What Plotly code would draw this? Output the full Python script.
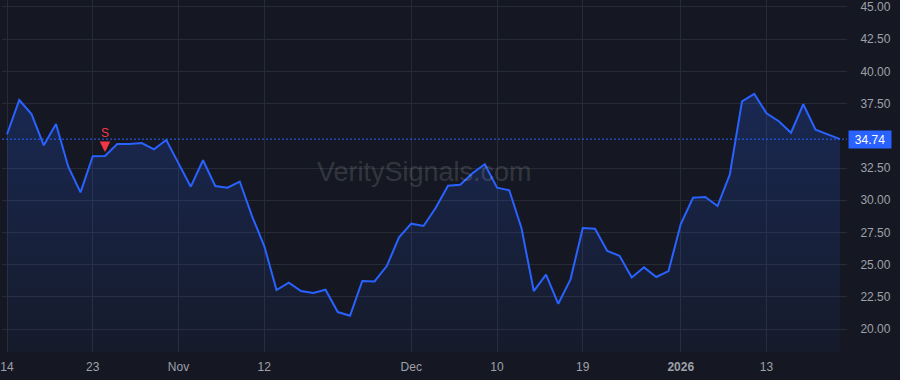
import plotly.graph_objects as go

dates = [
    "2025-10-14", "2025-10-15", "2025-10-16", "2025-10-17", "2025-10-20", "2025-10-21", "2025-10-22",
    "2025-10-23", "2025-10-24", "2025-10-27", "2025-10-28", "2025-10-29", "2025-10-30", "2025-10-31",
    "2025-11-03", "2025-11-04", "2025-11-05", "2025-11-06", "2025-11-07", "2025-11-10", "2025-11-11",
    "2025-11-12", "2025-11-13", "2025-11-14", "2025-11-17", "2025-11-18", "2025-11-19", "2025-11-20",
    "2025-11-21", "2025-11-24", "2025-11-25", "2025-11-26", "2025-11-28",
    "2025-12-01", "2025-12-02", "2025-12-03", "2025-12-04", "2025-12-05", "2025-12-08", "2025-12-09",
    "2025-12-10", "2025-12-11", "2025-12-12", "2025-12-15", "2025-12-16", "2025-12-17", "2025-12-18",
    "2025-12-19", "2025-12-22", "2025-12-23", "2025-12-24", "2025-12-26", "2025-12-29", "2025-12-30",
    "2025-12-31",
    "2026-01-02", "2026-01-05", "2026-01-06", "2026-01-07", "2026-01-08", "2026-01-09", "2026-01-12",
    "2026-01-13", "2026-01-14", "2026-01-15", "2026-01-16", "2026-01-20", "2026-01-21", "2026-01-22",
]

prices = [
    35.12, 37.78, 36.69, 34.26, 35.92, 32.60, 30.61,
    33.41, 33.43, 34.36, 34.36, 34.44, 33.95, 34.67,
    32.86, 31.05, 33.10, 31.10, 30.97, 31.45, 28.77,
    26.44, 23.03, 23.60, 22.95, 22.80, 23.05, 21.32,
    21.03, 23.73, 23.70, 24.89, 27.12,
    28.18, 28.00, 29.42, 31.13, 31.20, 32.09, 32.79,
    30.97, 30.77, 27.82, 22.95, 24.22, 21.96, 23.86,
    27.84, 27.79, 26.06, 25.69, 24.01, 24.79, 24.04,
    24.50,
    28.15, 30.19, 30.25, 29.55, 31.98, 37.68, 38.25,
    36.75, 36.13, 35.24, 37.45, 35.48, 35.12, 34.74,
]

x_tick_dates = ["2025-10-14", "2025-10-23", "2025-11-03", "2025-11-12", "2025-12-01",
                "2025-12-10", "2025-12-19", "2026-01-02", "2026-01-13"]
x_tick_labels = ["14", "23", "Nov", "12", "Dec", "10", "19", "<b>2026</b>", "13"]

y_tick_values = [20.0, 22.5, 25.0, 27.5, 30.0, 32.5, 37.5, 40.0, 42.5, 45.0]

signal_date = "2025-10-24"
signal_label = "S"
last_price = prices[-1]
watermark = "VeritySignals.com"

BG = "#151822"
GRID = "#272b36"
BLUE = "#2962ff"
RED = "#f23645"
TXT = "#9ea1aa"

n = len(dates)
fig = go.Figure()
fig.add_trace(go.Scatter(
    x=dates, y=prices, mode="lines",
    line=dict(color=BLUE, width=2),
    fill="tozeroy",
    fillgradient=dict(type="vertical", start=18.2, stop=38.3,
                      colorscale=[[0, "rgba(41,98,255,0.04)"], [1, "rgba(41,98,255,0.22)"]]),
    hoverinfo="skip", showlegend=False,
))

fig.add_shape(type="line", xref="paper", yref="y", x0=0, x1=1, y0=last_price, y1=last_price,
              line=dict(color=BLUE, width=1, dash="2px,2px"))

fig.add_annotation(xref="paper", yref="y", x=1, y=last_price, xanchor="left", yanchor="middle",
                   text=f"{last_price:.2f}", showarrow=False, bgcolor=BLUE,
                   font=dict(color="#ffffff", size=12, family="Liberation Sans, Arial"),
                   width=40, height=15, borderpad=1, xshift=1)

sig_idx = dates.index(signal_date)
# signal arrow (stem + head) pointing down at the signal bar
fig.add_annotation(x=sig_idx, y=prices[sig_idx], xref="x", yref="y",
                   text="", showarrow=True, arrowhead=2, arrowsize=0.6, arrowwidth=3.5,
                   arrowcolor=RED, ax=0, ay=-14, standoff=4)
# signal label
fig.add_annotation(x=sig_idx, y=prices[sig_idx], xref="x", yref="y", yshift=23,
                   text=signal_label, showarrow=False, yanchor="middle",
                   font=dict(color=RED, size=12, family="Liberation Sans, Arial"))

fig.add_annotation(xref="paper", yref="paper", x=0.5, y=0.51, text=watermark, showarrow=False,
                   font=dict(color="rgba(255,255,255,0.14)", size=27, family="Liberation Sans, Arial"))

fig.update_layout(
    width=900, height=380,
    margin=dict(l=0, r=53, t=0, b=28),
    paper_bgcolor=BG, plot_bgcolor=BG,
    font=dict(family="Liberation Sans, Arial", size=12, color=TXT),
    xaxis=dict(type="category", range=[-0.41, n - 1 + 0.57],
               tickmode="array", tickvals=x_tick_dates, ticktext=x_tick_labels,
               showgrid=True, gridcolor=GRID, gridwidth=1, zeroline=False, showline=False,
               ticks="outside", ticklen=4, tickcolor="rgba(0,0,0,0)",
               tickfont=dict(size=12, color=TXT)),
    yaxis=dict(side="right", range=[18.22, 45.54], tickmode="array", tickvals=y_tick_values,
               tickformat=".2f", showgrid=True, gridcolor=GRID, gridwidth=1, zeroline=False,
               showline=False, ticks="outside", ticklen=10, tickcolor="rgba(0,0,0,0)",
               tickfont=dict(size=12, color=TXT)),
)

fig.write_html("out.html")
